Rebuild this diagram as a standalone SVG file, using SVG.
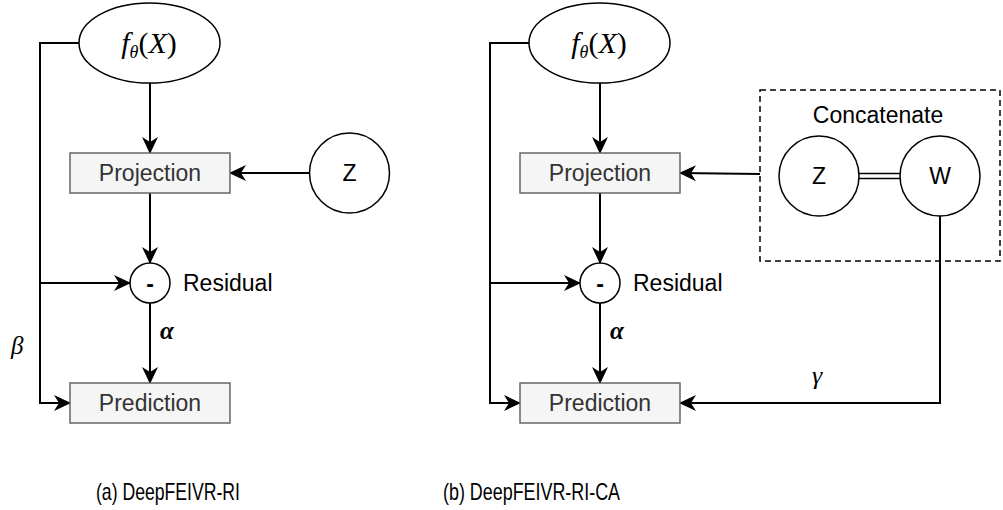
<svg xmlns="http://www.w3.org/2000/svg" width="1003" height="510" viewBox="0 0 1003 510">
<defs>
<marker id="arr" viewBox="0 0 17 16" refX="16" refY="8" markerWidth="17" markerHeight="16" markerUnits="userSpaceOnUse" orient="auto">
<path d="M0,0 L17,8 L0,16 L5,8 Z" fill="#000"/>
</marker>
<style>
.box{fill:#f5f5f5;stroke:#666;stroke-width:1.5}
.node{fill:#fff;stroke:#000;stroke-width:1.5}
.edge{fill:none;stroke:#000;stroke-width:2}
.lbl{font-family:"Liberation Sans",Arial,sans-serif;font-size:23px;fill:#333;text-anchor:middle}
.txt{font-family:"Liberation Sans",Arial,sans-serif;font-size:23px;fill:#000}
.math{font-family:"Liberation Serif","Times New Roman",serif;font-style:italic;fill:#000}
.cap{font-family:"Liberation Sans",Arial,sans-serif;font-size:24px;fill:#000}
</style>
</defs>
<rect width="1003" height="510" fill="#fff"/>

<g id="connectors">
<path class="edge" d="M150,83 L150,153" marker-end="url(#arr)"/>
<path class="edge" d="M310,173 L230,173" marker-end="url(#arr)"/>
<path class="edge" d="M150,193 L150,263" marker-end="url(#arr)"/>
<path class="edge" d="M150,303 L150,383" marker-end="url(#arr)"/>
<path class="edge" d="M79,43 L40,43 L40,403 L70,403" marker-end="url(#arr)"/>
<path class="edge" d="M40,283 L130,283" marker-end="url(#arr)"/>
<path class="edge" d="M600,83 L600,153" marker-end="url(#arr)"/>
<path class="edge" d="M760,174 L680,173" marker-end="url(#arr)"/>
<path class="edge" d="M600,193 L600,263" marker-end="url(#arr)"/>
<path class="edge" d="M600,303 L600,383" marker-end="url(#arr)"/>
<path class="edge" d="M529,43 L490,43 L490,403 L520,403" marker-end="url(#arr)"/>
<path class="edge" d="M490,283 L580,283" marker-end="url(#arr)"/>
<path class="edge" d="M940,216 L940,403 L680,403" marker-end="url(#arr)"/>
<path fill="none" stroke="#000" stroke-width="1.5" d="M859,173.5 L900,173.5 M859,178.5 L900,178.5"/>
</g>

<g id="fx-a">
<ellipse class="node" cx="149.5" cy="43" rx="70.5" ry="40"/>
<text class="math" x="149" y="53" font-size="30" text-anchor="middle">f<tspan font-size="18" dy="5">θ</tspan><tspan dy="-5" font-style="normal">(</tspan>X<tspan font-style="normal">)</tspan></text>
</g>
<g id="proj-a">
<rect class="box" x="70" y="153" width="160" height="40"/>
<text class="lbl" x="150" y="181">Projection</text>
</g>
<g id="z-a">
<circle class="node" cx="349.5" cy="173" r="40"/>
<text class="txt" x="349.5" y="181" text-anchor="middle">Z</text>
</g>
<g id="res-a">
<circle class="node" cx="150" cy="283" r="20"/>
<text class="txt" x="150" y="292" text-anchor="middle" font-weight="bold" font-size="26">-</text>
<text class="txt" x="183" y="291">Residual</text>
</g>
<g id="pred-a">
<rect class="box" x="70" y="383" width="160" height="40"/>
<text class="lbl" x="150" y="411">Prediction</text>
</g>
<text class="math" x="160" y="339" font-size="25" font-weight="bold">α</text>
<text class="math" x="11" y="354" font-size="25">β</text>

<g id="fx-b">
<ellipse class="node" cx="599.5" cy="43" rx="70.5" ry="40"/>
<text class="math" x="599" y="53" font-size="30" text-anchor="middle">f<tspan font-size="18" dy="5">θ</tspan><tspan dy="-5" font-style="normal">(</tspan>X<tspan font-style="normal">)</tspan></text>
</g>
<g id="proj-b">
<rect class="box" x="520" y="153" width="160" height="40"/>
<text class="lbl" x="600" y="181">Projection</text>
</g>
<g id="concat">
<rect x="760" y="90" width="240" height="171" fill="none" stroke="#000" stroke-width="1.5" stroke-dasharray="6,4"/>
<text class="txt" x="878" y="123" text-anchor="middle">Concatenate</text>
</g>
<g id="z-b">
<circle class="node" cx="819" cy="176" r="40"/>
<text class="txt" x="819" y="184" text-anchor="middle">Z</text>
</g>
<g id="w-b">
<circle class="node" cx="940" cy="176" r="40"/>
<text class="txt" x="940" y="184" text-anchor="middle">W</text>
</g>
<g id="res-b">
<circle class="node" cx="600" cy="283" r="20"/>
<text class="txt" x="600" y="292" text-anchor="middle" font-weight="bold" font-size="26">-</text>
<text class="txt" x="633" y="291">Residual</text>
</g>
<g id="pred-b">
<rect class="box" x="520" y="383" width="160" height="40"/>
<text class="lbl" x="600" y="411">Prediction</text>
</g>
<text class="math" x="610" y="339" font-size="25" font-weight="bold">α</text>
<text class="math" x="812" y="384" font-size="26">γ</text>

<text class="cap" x="96" y="500" textLength="144" lengthAdjust="spacingAndGlyphs">(a) DeepFEIVR-RI</text>
<text class="cap" x="443" y="500" textLength="177" lengthAdjust="spacingAndGlyphs">(b) DeepFEIVR-RI-CA</text>
</svg>
